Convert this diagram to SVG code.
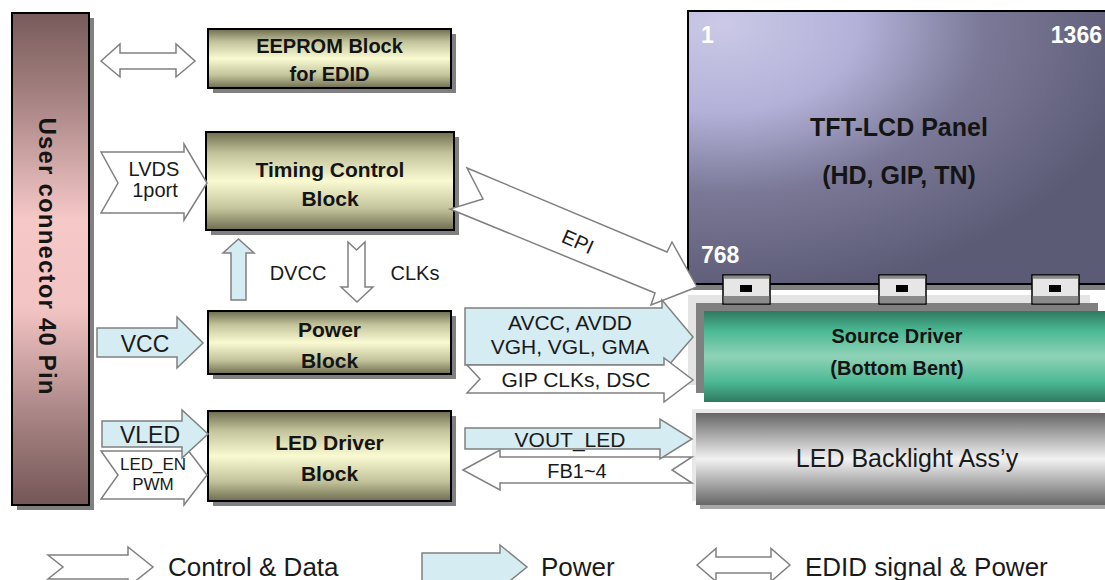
<svg xmlns="http://www.w3.org/2000/svg" width="1105" height="580" viewBox="0 0 1105 580">
<defs>
<linearGradient id="gBlock" x1="0" y1="0" x2="0" y2="1">
<stop offset="0" stop-color="#6e6e50"/><stop offset="0.22" stop-color="#c4c49c"/><stop offset="0.5" stop-color="#fafad2"/><stop offset="0.78" stop-color="#c4c49c"/><stop offset="1" stop-color="#6e6e50"/>
</linearGradient>
<linearGradient id="gConn" x1="0" y1="0" x2="0" y2="1">
<stop offset="0" stop-color="#785a5a"/><stop offset="0.18" stop-color="#a88484"/><stop offset="0.42" stop-color="#f6c8c8"/><stop offset="0.6" stop-color="#f3c4c4"/><stop offset="0.82" stop-color="#a88484"/><stop offset="1" stop-color="#745656"/>
</linearGradient>
<linearGradient id="gGreen" x1="0" y1="0" x2="0" y2="1">
<stop offset="0" stop-color="#2f7a60"/><stop offset="0.22" stop-color="#4bb994"/><stop offset="0.5" stop-color="#90d2b8"/><stop offset="0.78" stop-color="#4bb994"/><stop offset="1" stop-color="#2f7a60"/>
</linearGradient>
<linearGradient id="gGray" x1="0" y1="0" x2="0" y2="1">
<stop offset="0" stop-color="#666"/><stop offset="0.5" stop-color="#f2f2f2"/><stop offset="1" stop-color="#666"/>
</linearGradient>
<radialGradient id="gPanel" cx="0.08" cy="0.05" r="1" fx="0.08" fy="0.05">
<stop offset="0" stop-color="#cbc9e6"/><stop offset="0.32" stop-color="#b3b1d8"/><stop offset="0.62" stop-color="#7a7896"/><stop offset="1" stop-color="#5c5b76"/>
</radialGradient>
<style>
.shadow{fill:#808080}
.blk{fill:url(#gBlock);stroke:#000;stroke-width:2}
.bt{font-family:"Liberation Sans",Arial,sans-serif;font-weight:bold;fill:#141414;text-anchor:middle}
.lbl{font-family:"Liberation Sans",Arial,sans-serif;fill:#1a1a1a;text-anchor:middle}
.ctl{fill:#fff;stroke:#808080;stroke-width:1.5}
.pwr{fill:#d6ecf3;stroke:#808080;stroke-width:1.5}
.wt{font-family:"Liberation Sans",Arial,sans-serif;font-weight:bold;font-size:23px;fill:#fff}
.leg{font-family:"Liberation Sans",Arial,sans-serif;font-size:26px;fill:#1a1a1a}
</style>
</defs>
<rect width="1105" height="580" fill="#fff"/>

<g id="user-connector">
<rect class="shadow" x="17" y="18" width="77" height="492"/>
<rect x="12" y="13" width="77" height="492" fill="url(#gConn)" stroke="#000" stroke-width="2"/>
<text class="bt" style="font-size:24px" transform="translate(39,256) rotate(90)" textLength="277" lengthAdjust="spacing">User connector 40 Pin</text>
</g>

<g id="eeprom">
<rect class="shadow" x="213" y="34" width="243" height="59"/>
<rect class="blk" x="208" y="29" width="243" height="59"/>
<text class="bt" style="font-size:20px" x="329.5" y="53">EEPROM Block</text>
<text class="bt" style="font-size:20px" x="329.5" y="81">for EDID</text>
</g>

<g id="timing-control">
<rect class="shadow" x="211" y="137" width="248" height="98"/>
<rect class="blk" x="206" y="132" width="248" height="98"/>
<text class="bt" style="font-size:21px" x="330" y="177">Timing Control</text>
<text class="bt" style="font-size:21px" x="330" y="206">Block</text>
</g>

<g id="power-block">
<rect class="shadow" x="213" y="316" width="243" height="63"/>
<rect class="blk" x="208" y="311" width="243" height="63"/>
<text class="bt" style="font-size:21px" x="329.5" y="337">Power</text>
<text class="bt" style="font-size:21px" x="329.5" y="368">Block</text>
</g>

<g id="led-driver">
<rect class="shadow" x="213" y="416" width="243" height="90"/>
<rect class="blk" x="208" y="411" width="243" height="90"/>
<text class="bt" style="font-size:21px" x="329.5" y="450">LED Driver</text>
<text class="bt" style="font-size:21px" x="329.5" y="481">Block</text>
</g>

<g id="panel">
<rect class="shadow" x="693" y="17" width="420" height="273"/>
<rect x="688" y="11" width="425" height="273" fill="url(#gPanel)" stroke="#000" stroke-width="2"/>
<text class="wt" x="701" y="43">1</text>
<text class="wt" x="1102" y="43" text-anchor="end">1366</text>
<text class="wt" x="701" y="263">768</text>
<text class="bt" style="font-size:25px" x="899" y="136">TFT-LCD Panel</text>
<text class="bt" style="font-size:25px" x="899" y="184">(HD, GIP, TN)</text>
</g>

<g id="source-driver">
<rect x="688" y="295" width="402" height="90" fill="#e4e4e4"/>
<rect x="696" y="303" width="402" height="90" fill="#808080"/>
<rect x="704" y="311" width="410" height="91" fill="url(#gGreen)"/>
<text class="bt" style="font-size:20px" x="897" y="343">Source Driver</text>
<text class="bt" style="font-size:20px" x="897" y="375">(Bottom Bent)</text>
</g>

<g id="tabs">
<g id="tab1">
<rect x="723" y="275" width="47" height="29" fill="#e6e6e6" stroke="#000" stroke-width="1.5"/>
<rect x="723.75" y="275.75" width="45.5" height="3" fill="#8a8a8a"/>
<rect x="723.75" y="296" width="45.5" height="7.25" fill="#8a8a8a"/>
<rect x="740" y="285" width="12" height="7" fill="#000"/>
</g>
<g id="tab2">
<rect x="879" y="275" width="47" height="29" fill="#e6e6e6" stroke="#000" stroke-width="1.5"/>
<rect x="879.75" y="275.75" width="45.5" height="3" fill="#8a8a8a"/>
<rect x="879.75" y="296" width="45.5" height="7.25" fill="#8a8a8a"/>
<rect x="896" y="285" width="12" height="7" fill="#000"/>
</g>
<g id="tab3">
<rect x="1032" y="275" width="47" height="29" fill="#e6e6e6" stroke="#000" stroke-width="1.5"/>
<rect x="1032.75" y="275.75" width="45.5" height="3" fill="#8a8a8a"/>
<rect x="1032.75" y="296" width="45.5" height="7.25" fill="#8a8a8a"/>
<rect x="1049" y="285" width="12" height="7" fill="#000"/>
</g>
</g>

<g id="led-backlight">
<rect x="692" y="409" width="408" height="92" fill="#e8e8e8"/>
<rect x="700" y="417" width="410" height="92" fill="#a8a8a8"/>
<rect x="696" y="413" width="415" height="92" fill="url(#gGray)"/>
<text class="lbl" style="font-size:25px" x="907" y="467">LED Backlight Ass’y</text>
</g>

<g id="connectors">
<polygon class="ctl" points="101,61 120,44 120,53 176,53 176,44 195,61 176,77 176,69 120,69 120,77"/>
<polygon class="ctl" points="101,152 184,152 184,144 207,183 184,220 184,213 101,213 118,183"/>
<text class="lbl" style="font-size:20px" x="154" y="176">LVDS</text>
<text class="lbl" style="font-size:20px" x="155" y="197">1port</text>
<polygon class="pwr" points="231,300 231,253 223,253 238.5,239 254,253 246,253 246,300"/>
<text class="lbl" style="font-size:20px" x="298" y="280">DVCC</text>
<polygon class="ctl" points="348,242 356.5,250 365,242 365,287 373,287 357,302 341,287 348,287"/>
<text class="lbl" style="font-size:20px" x="415" y="280">CLKs</text>
<polygon class="pwr" points="97,328 177,328 177,317 203,343 177,368 177,357 97,357"/>
<text class="lbl" style="font-size:23px" x="145" y="352">VCC</text>
<polygon class="ctl" points="101,451 184,451 184,445 207,475 184,505 184,499 101,499 118,475"/>
<text class="lbl" style="font-size:17px" x="153" y="470">LED_EN</text>
<text class="lbl" style="font-size:17px" x="153" y="490">PWM</text>
<polygon class="pwr" points="102,421 182,421 182,410 208,434 182,458 182,447 102,447"/>
<text class="lbl" style="font-size:23px" x="150" y="443">VLED</text>
<polygon class="ctl" points="467,168 667,252 672,242 697,287 651,305 655,293 450,209 483,199"/>
<text class="lbl" style="font-size:20px" transform="translate(575,248) rotate(24)">EPI</text>
<polygon class="pwr" points="465,308 662,308 662,300 693,337 662,373 662,365 465,365"/>
<text class="lbl" style="font-size:21px" x="570" y="330">AVCC, AVDD</text>
<text class="lbl" style="font-size:21px" x="570" y="354">VGH, VGL, GMA</text>
<polygon class="ctl" points="467,365 664,365 664,358 693,380 664,402 664,393 467,393 480,379"/>
<text class="lbl" style="font-size:21px" x="576" y="387">GIP CLKs, DSC</text>
<polygon class="ctl" points="463,470 500,450 500,457 692,457 672,470 692,483 500,483 500,490"/>
<text class="lbl" style="font-size:20px" x="577" y="478">FB1~4</text>
<polygon class="pwr" points="465,428 660,428 660,419 692,439 660,459 660,449 465,449"/>
<text class="lbl" style="font-size:21px" x="570" y="447">VOUT_LED</text>
</g>

<g id="legend">
<polygon class="ctl" points="48,555 128,555 128,547 153,567 128,587 128,579 48,579 63,567"/>
<text class="leg" x="168" y="576">Control &amp; Data</text>
<polygon class="pwr" points="422,553 500,553 500,545 527,567 500,589 500,581 422,581"/>
<text class="leg" x="541" y="576">Power</text>
<polygon class="ctl" points="697,565 716,548.5 716,557 771,557 771,548.5 790,565 771,581.5 771,573 716,573 716,581.5"/>
<text class="leg" x="805" y="576">EDID signal &amp; Power</text>
</g>
</svg>
